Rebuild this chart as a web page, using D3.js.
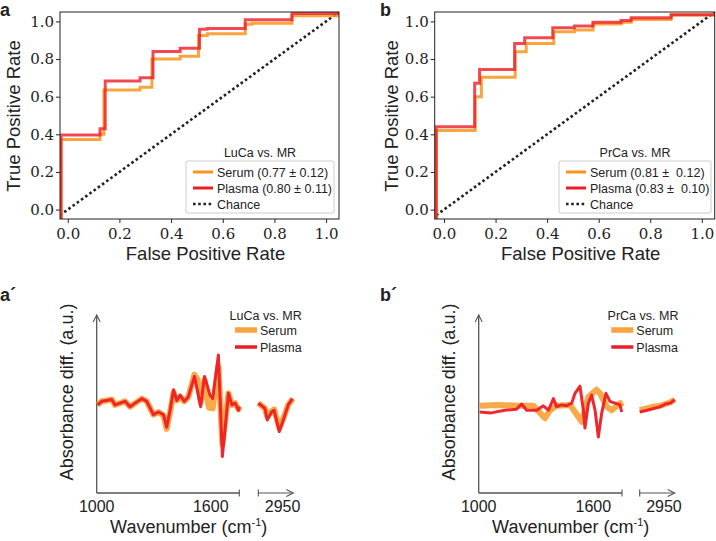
<!DOCTYPE html>
<html>
<head>
<meta charset="utf-8">
<style>
    body { margin: 0; background: #fff; }
    svg { display: block; }
    text { font-family: "Liberation Sans", Arial, sans-serif; fill: #222; }
    .tick text { font-family: "DejaVu Serif", serif; fill: #222; }
</style>
</head>
<body>
<script src="https://d3js.org/d3.v7.min.js"></script>
<script>
    const W = 716, H = 541;

    // ROC curves, [fpr, tpr] corner points (step after)
    const rocA_serum  = [[-0.03,-0.05],[-0.026,0.373],[0.125,0.40],[0.14,0.635],[0.28,0.65],[0.326,0.80],[0.435,0.815],[0.506,0.925],[0.54,0.935],[0.687,0.985],[0.713,0.99],[0.868,1.03],[1.05,1.04]];
    const rocA_plasma = [[-0.03,-0.05],[-0.026,0.396],[0.125,0.43],[0.145,0.683],[0.28,0.70],[0.33,0.84],[0.435,0.857],[0.51,0.958],[0.54,0.962],[0.687,1.009],[0.868,1.042],[1.05,1.045]];
    const rocB_serum  = [[-0.035,-0.05],[-0.03,0.42],[0.121,0.60],[0.145,0.703],[0.276,0.839],[0.319,0.883],[0.426,0.945],[0.506,0.955],[0.578,0.986],[0.687,0.995],[0.726,1.01],[0.881,1.034],[1.05,1.04]];
    const rocB_plasma = [[-0.035,-0.05],[-0.03,0.44],[0.119,0.671],[0.138,0.745],[0.274,0.883],[0.313,0.913],[0.422,0.966],[0.506,0.975],[0.578,0.995],[0.687,1.005],[0.726,1.02],[0.881,1.035],[1.05,1.045]];
    const chance = [[-0.03,-0.03],[1.05,1.05]];
    const rocTicks = [0, 0.2, 0.4, 0.6, 0.8, 1.0];
    const legendA = ['Serum (0.77 \u00b1 0.12)', 'Plasma (0.80 \u00b1 0.11)', 'Chance'];
    const legendB = ['Serum (0.81 \u00b1  0.12)', 'Plasma (0.83 \u00b1  0.10)', 'Chance'];

    // difference spectra, [wavenumber, value]
    const specA_serum_fp  = [[1005,-0.01],[1026,0.03],[1053,0.04],[1079,0.05],[1096,-0.01],[1123,0.01],[1149,0.03],[1175,-0.03],[1202,0.01],[1237,0.06],[1263,0.03],[1298,-0.12],[1325,-0.09],[1351,-0.13],[1368,-0.28],[1386,-0.09],[1404,0.13],[1421,0.04],[1439,0.08],[1461,0.03],[1482,0.08],[1514,0.33],[1530,0.28],[1547,0.02],[1567,0.27],[1590,-0.04],[1610,-0.05],[1640,0.42],[1661,-0.45],[1693,0.12],[1711,-0.01],[1728,0.01],[1746,-0.06],[1750,-0.03]];
    const specA_plasma_fp = [[1005,-0.01],[1026,0.03],[1053,0.04],[1079,0.05],[1096,-0.01],[1123,0.01],[1149,0.03],[1175,-0.03],[1202,0.01],[1237,0.06],[1263,0.03],[1298,-0.12],[1325,-0.09],[1351,-0.12],[1368,-0.26],[1386,-0.07],[1404,0.16],[1421,0.04],[1439,0.10],[1461,0.03],[1482,0.08],[1514,0.31],[1547,-0.03],[1567,0.31],[1596,0.10],[1610,0.06],[1640,0.55],[1661,-0.59],[1693,0.12],[1711,-0.01],[1728,0.01],[1746,-0.07],[1750,-0.03]];
    const specA_serum_ch  = [[2800,0.01],[2819,-0.02],[2838,-0.05],[2851,-0.14],[2876,-0.08],[2890,-0.06],[2920,-0.27],[2943,-0.16],[2971,-0.01],[2996,0.06]];
    const specA_plasma_ch = [[2800,0.01],[2819,-0.02],[2838,-0.05],[2851,-0.18],[2876,-0.09],[2890,-0.07],[2920,-0.31],[2943,-0.18],[2971,-0.01],[2996,0.06]];

    const specB_serum_fp  = [[1005,-0.02],[1101,-0.01],[1206,-0.02],[1286,-0.02],[1321,-0.10],[1347,-0.16],[1373,-0.07],[1408,-0.02],[1478,-0.01],[1504,-0.09],[1539,-0.20],[1574,0.08],[1617,0.16],[1635,0.12],[1670,-0.03],[1696,-0.07],[1740,0.01],[1748,-0.03]];
    const specB_plasma_fp = [[1005,-0.09],[1066,-0.10],[1136,-0.07],[1197,-0.06],[1225,0.00],[1251,-0.07],[1304,-0.07],[1338,-0.02],[1365,-0.07],[1391,0.06],[1408,-0.03],[1434,-0.01],[1460,-0.02],[1487,0.01],[1504,0.12],[1530,0.20],[1548,-0.07],[1556,-0.27],[1574,0.01],[1591,0.10],[1609,-0.07],[1626,-0.37],[1644,-0.10],[1666,0.12],[1687,0.03],[1713,0.01],[1740,-0.01],[1748,-0.09]];
    const specB_serum_ch  = [[2800,-0.07],[2842,-0.05],[2880,-0.03],[2918,-0.02],[2947,0.00],[2975,0.02],[3000,0.05]];
    const specB_plasma_ch = [[2800,-0.09],[2842,-0.07],[2880,-0.05],[2918,-0.03],[2947,0.00],[2975,0.01],[3000,0.05]];
    const specTicks = [1000, 1600];
    const specSeries = ['Serum', 'Plasma'];

    const orange = '#f7941d', red = '#ee1c25';

    const svg = d3.select('body').append('svg')
        .attr('width', W).attr('height', H)
        .style('background', '#fff');

    function rocPanel(p) {
        const x = d3.scaleLinear().domain(p.xlim).range([p.x0, p.x1]);
        const y = d3.scaleLinear().domain([-0.05, 1.05]).range([219, 12]);
        const g = svg.append('g');

        g.append('clipPath').attr('id', p.id)
         .append('rect')
         .attr('x', p.x0).attr('y', 12)
         .attr('width', p.x1 - p.x0).attr('height', 207);

        const step = d3.line().x(d => x(d[0])).y(d => y(d[1])).curve(d3.curveStepAfter);
        const straight = d3.line().x(d => x(d[0])).y(d => y(d[1]));

        const lines = g.append('g').attr('clip-path', `url(#${p.id})`);
        lines.append('path').datum(chance)
             .attr('d', straight).attr('fill', 'none')
             .attr('stroke', '#222').attr('stroke-width', 2.6)
             .attr('stroke-dasharray', '2.6,2.6');
        lines.append('path').datum(p.serum)
             .attr('d', step).attr('fill', 'none')
             .attr('stroke', orange).attr('stroke-width', 3).attr('stroke-opacity', 0.85);
        lines.append('path').datum(p.plasma)
             .attr('d', step).attr('fill', 'none')
             .attr('stroke', red).attr('stroke-width', 3).attr('stroke-opacity', 0.8);

        g.append('rect')
         .attr('x', p.x0).attr('y', 12)
         .attr('width', p.x1 - p.x0).attr('height', 207)
         .attr('fill', 'none').attr('stroke', '#222').attr('stroke-width', 1);

        const xa = g.append('g').attr('transform', 'translate(0,219)')
            .call(d3.axisBottom(x).tickValues(rocTicks).tickFormat(d3.format('.1f')).tickSize(4).tickPadding(5));
        const ya = g.append('g').attr('transform', `translate(${p.x0},0)`)
            .call(d3.axisLeft(y).tickValues(rocTicks).tickFormat(d3.format('.1f')).tickSize(4).tickPadding(2));
        [xa, ya].forEach(a => {
            a.select('.domain').remove();
            a.selectAll('.tick line').attr('stroke', '#222');
            a.selectAll('.tick text').attr('font-size', 15);
        });

        g.append('text')
         .attr('x', (p.x0 + p.x1) / 2 + 6).attr('y', 260)
         .attr('text-anchor', 'middle').attr('font-size', 18.5)
         .text('False Positive Rate');
        g.append('text')
         .attr('transform', `translate(${p.ylabX},116) rotate(-90)`)
         .attr('text-anchor', 'middle').attr('font-size', 18.5)
         .text('True Positive Rate');
        g.append('text')
         .attr('x', p.labX).attr('y', 16)
         .attr('font-size', 18).attr('font-weight', 'bold')
         .text(p.label);

        // legend
        g.append('text')
         .attr('x', p.legX + p.legW / 2).attr('y', 157)
         .attr('text-anchor', 'middle').attr('font-size', 12.5)
         .text(p.title);
        g.append('rect')
         .attr('x', p.legX).attr('y', 161)
         .attr('width', p.legW).attr('height', 52).attr('rx', 2)
         .attr('fill', '#fff').attr('fill-opacity', 0.85)
         .attr('stroke', '#ccc').attr('stroke-width', 1);
        const items = g.selectAll('.leg').data(p.legend).enter().append('g')
            .attr('transform', (d, i) => `translate(${p.legX + 7},${172 + i * 16})`);
        items.append('line')
             .attr('x1', 0).attr('x2', 20)
             .attr('stroke', (d, i) => [orange, red, '#222'][i])
             .attr('stroke-width', (d, i) => i < 2 ? 3 : 2.6)
             .attr('stroke-dasharray', (d, i) => i < 2 ? null : '2.6,2.6');
        items.append('text')
             .attr('x', 24).attr('y', 4.5)
             .attr('font-size', 12.5)
             .style('white-space', 'pre')
             .text(d => d);
    }

    function specPanel(p) {
        const yTop = 315, yBot = 493;
        const x1 = d3.scaleLinear().domain([1000, 1750]).range([p.ax, p.seg1End]);
        const x2 = d3.scaleLinear().domain([2800, 3000]).range([p.seg2Start, p.seg2Start + 35]);
        const y = d3.scaleLinear().domain([-1, 1]).range([yBot, yTop]);
        const g = svg.append('g');
        const axisCol = '#555';

        // axes
        g.append('line').attr('x1', p.ax).attr('x2', p.ax).attr('y1', yTop).attr('y2', yBot)
         .attr('stroke', axisCol).attr('stroke-width', 1.3);
        g.append('path')
         .attr('d', `M${p.ax - 3.5},${yTop + 7}L${p.ax},${yTop}L${p.ax + 3.5},${yTop + 7}`)
         .attr('fill', 'none').attr('stroke', axisCol).attr('stroke-width', 1.1);
        g.append('line').attr('x1', x1.range()[0]).attr('x2', x1.range()[1]).attr('y1', yBot).attr('y2', yBot)
         .attr('stroke', axisCol).attr('stroke-width', 1.3);
        g.append('line').attr('x1', x1.range()[1]).attr('x2', x1.range()[1]).attr('y1', yBot - 3.5).attr('y2', yBot + 3.5)
         .attr('stroke', axisCol).attr('stroke-width', 1.1);
        g.append('line').attr('x1', x2.range()[0]).attr('x2', x2.range()[1]).attr('y1', yBot).attr('y2', yBot)
         .attr('stroke', axisCol).attr('stroke-width', 1.1);
        g.append('line').attr('x1', x2.range()[0]).attr('x2', x2.range()[0]).attr('y1', yBot - 3.5).attr('y2', yBot + 3.5)
         .attr('stroke', axisCol).attr('stroke-width', 1.1);
        g.append('path')
         .attr('d', `M${x2.range()[1] - 7},${yBot - 3.5}L${x2.range()[1]},${yBot}L${x2.range()[1] - 7},${yBot + 3.5}`)
         .attr('fill', 'none').attr('stroke', axisCol).attr('stroke-width', 1.1);

        g.selectAll('.tk').data(specTicks).enter().append('text')
         .attr('class', 'tk')
         .attr('x', d => x1(d)).attr('y', 511.5)
         .attr('text-anchor', 'middle')
         .attr('font-family', '"DejaVu Serif", serif').attr('font-size', 16)
         .text(d => d);
        g.append('text')
         .attr('x', x2(2950) - 2).attr('y', 511.5)
         .attr('text-anchor', 'middle')
         .attr('font-family', '"DejaVu Serif", serif').attr('font-size', 16)
         .text('2950');

        const wn = g.append('text')
         .attr('x', p.ax + 92).attr('y', 533)
         .attr('text-anchor', 'middle').attr('font-size', 18);
        wn.append('tspan').text('Wavenumber (cm');
        wn.append('tspan').attr('font-size', 11).attr('dy', -7).text('-1');
        wn.append('tspan').attr('dy', 7).text(')');

        g.append('text')
         .attr('transform', `translate(${p.ax - 24},392) rotate(-90)`)
         .attr('text-anchor', 'middle').attr('font-size', 18)
         .text('Absorbance diff. (a.u.)');
        g.append('text')
         .attr('x', p.labX).attr('y', 301)
         .attr('font-size', 18).attr('font-weight', 'bold')
         .text(p.label);

        const l1 = d3.line().x(d => x1(d[0])).y(d => y(d[1]));
        const l2 = d3.line().x(d => x2(d[0])).y(d => y(d[1]));
        [[p.serumFp, l1], [p.serumCh, l2]].forEach(([d, fn]) => {
            g.append('path').datum(d).attr('d', fn).attr('fill', 'none')
             .attr('stroke', orange).attr('stroke-opacity', 0.8)
             .attr('stroke-width', 6).attr('stroke-linejoin', 'round');
        });
        [[p.plasmaFp, l1], [p.plasmaCh, l2]].forEach(([d, fn]) => {
            g.append('path').datum(d).attr('d', fn).attr('fill', 'none')
             .attr('stroke', red).attr('stroke-opacity', 0.95)
             .attr('stroke-width', 3).attr('stroke-linejoin', 'round');
        });

        // legend
        g.append('text')
         .attr('x', p.legTitleX).attr('y', 320)
         .attr('text-anchor', 'middle').attr('font-size', 12.5)
         .text(p.title);
        const items = g.selectAll('.sleg').data(specSeries).enter().append('g')
            .attr('transform', (d, i) => `translate(${p.legLineX},${330 + i * 17})`);
        items.append('line').attr('x1', 0).attr('x2', 22)
             .attr('stroke', (d, i) => i === 0 ? orange : red)
             .attr('stroke-opacity', (d, i) => i === 0 ? 0.85 : 1)
             .attr('stroke-width', (d, i) => i === 0 ? 5.5 : 3.5);
        items.append('text').attr('x', 25).attr('y', 4.5)
             .attr('font-size', 12.5).text(d => d);
    }

    rocPanel({ id: 'clipA', xlim: [-0.03, 1.05], x0: 60, x1: 339, ylabX: 20, labX: 0, label: 'a',
               serum: rocA_serum, plasma: rocA_plasma, title: 'LuCa vs. MR', legend: legendA, legX: 186, legW: 148 });
    rocPanel({ id: 'clipB', xlim: [-0.036, 1.05], x0: 434.7, x1: 714.7, ylabX: 398, labX: 380, label: 'b',
               serum: rocB_serum, plasma: rocB_plasma, title: 'PrCa vs. MR', legend: legendB, legX: 559, legW: 152 });

    specPanel({ ax: 96.7, seg1End: 239.3, seg2Start: 258.3, labX: 0, label: 'a\u00b4', title: 'LuCa vs. MR',
                legTitleX: 265.7, legLineX: 235,
                serumFp: specA_serum_fp, plasmaFp: specA_plasma_fp, serumCh: specA_serum_ch, plasmaCh: specA_plasma_ch });
    specPanel({ ax: 478.7, seg1End: 622, seg2Start: 639.7, labX: 380, label: 'b\u00b4', title: 'PrCa vs. MR',
                legTitleX: 643, legLineX: 611.3,
                serumFp: specB_serum_fp, plasmaFp: specB_plasma_fp, serumCh: specB_serum_ch, plasmaCh: specB_plasma_ch });
</script>
</body>
</html>
